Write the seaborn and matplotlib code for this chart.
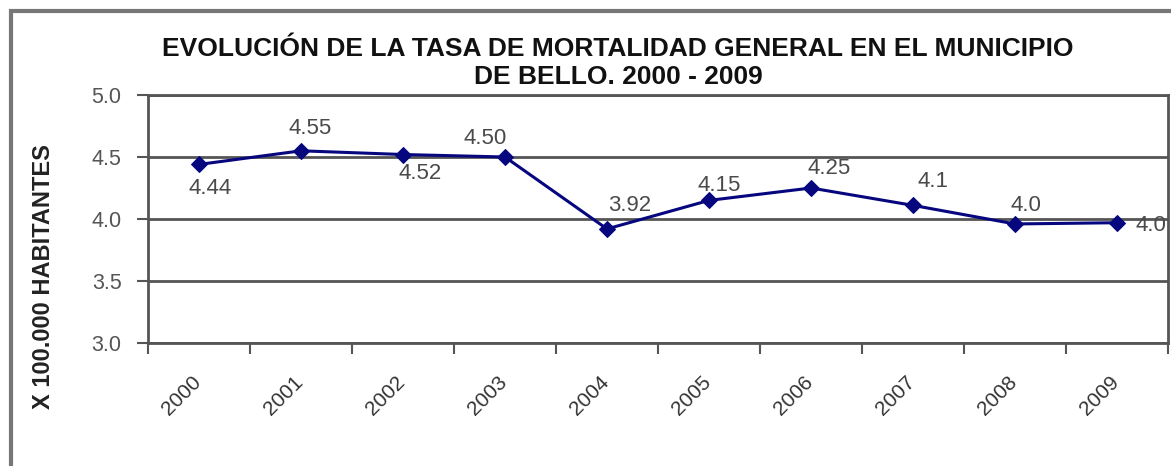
import seaborn as sns
import pandas as pd
import matplotlib.pyplot as plt
import matplotlib.transforms as mtransforms
import numpy as np
from matplotlib.patches import Rectangle

years = ["2000", "2001", "2002", "2003", "2004", "2005", "2006", "2007", "2008", "2009"]
tasa = [4.44, 4.55, 4.52, 4.50, 3.92, 4.15, 4.25, 4.11, 3.96, 3.97]
etiquetas = ["4.44", "4.55", "4.52", "4.50", "3.92", "4.15", "4.25", "4.1", "4.0", "4.0"]

# label offsets from each point, in pixels (layout only)
off_x = [11, 9, 17, -20, 23, 10, 18, 20, 11, 19]
off_y = [-24, 22, -19, 18, 23, 15, 20, 24, 18, -3]

sns.set_theme(style="white")
plt.rcParams['font.family'] = ['Liberation Sans', 'DejaVu Sans']

df = pd.DataFrame({"year": years, "tasa": tasa})

fig = plt.figure(figsize=(11.71, 4.66), dpi=100)
ax = fig.add_axes([148/1171, 1 - 343/466, 1020/1171, 248/466])

grey = "#555555"
navy = "#06067f"

sns.lineplot(data=df, x="year", y="tasa", ax=ax, color=navy, linewidth=2.2,
             marker="D", markersize=8, markeredgecolor=navy, sort=False)

ax.set_xlim(-0.5, len(years) - 0.5)
ax.set_ylim(3.0, 5.0)
ax.set_yticks([3.0, 3.5, 4.0, 4.5, 5.0])
ax.set_yticklabels(["3.0", "3.5", "4.0", "4.5", "5.0"])
ax.yaxis.grid(True, color=grey, linewidth=2)
ax.set_axisbelow(True)

ax.set_xticks(range(len(years)))
ax.set_xticklabels(years, rotation=45, ha="right", va="top")
ax.set_xticks(np.arange(-0.5, len(years), 1), minor=True)
ax.tick_params(axis="x", which="major", length=0, pad=21, labelsize=15, labelcolor="#333333")
ax.tick_params(axis="x", which="minor", length=8, width=1.5, color=grey, direction="out", bottom=True)
ax.tick_params(axis="y", length=8, width=1.5, color=grey, left=True, labelsize=15.5,
               labelcolor="#555555", pad=11)

# nudge the rotated year labels a few pixels to the right
shift = mtransforms.ScaledTranslation(6/100, 0, fig.dpi_scale_trans)
for lbl in ax.get_xticklabels():
    lbl.set_transform(lbl.get_transform() + shift)

for s in ax.spines.values():
    s.set_color(grey)
    s.set_linewidth(2)

ax.set_xlabel("")
ax.set_ylabel("X 100.000 HABITANTES", fontsize=17, fontweight="bold", color="#222222")
ax.yaxis.set_label_coords(-0.091, 0.266)

for i, (v, t) in enumerate(zip(tasa, etiquetas)):
    ha = "left" if i == len(years) - 1 else "center"
    ax.annotate(t, (i, v), xytext=(off_x[i], off_y[i]), textcoords="offset pixels",
                ha=ha, va="center", fontsize=16, color="#4a4a4a",
                annotation_clip=False)

fig.text(618/1171, 1 - 63/466,
         "EVOLUCIÓN DE LA TASA DE MORTALIDAD GENERAL EN EL MUNICIPIO\nDE BELLO. 2000 - 2009",
         ha="center", va="center", fontsize=19, fontweight="bold", color="#111111",
         linespacing=1.25)

# outer chart frame, cut off at right and bottom like the source
fig.patches.append(Rectangle((11/1171, -0.1), 1.2, 1 - 11/466 + 0.1,
                             transform=fig.transFigure, fill=False,
                             edgecolor="#777777", linewidth=3))

fig.savefig("out.png", dpi=100)
